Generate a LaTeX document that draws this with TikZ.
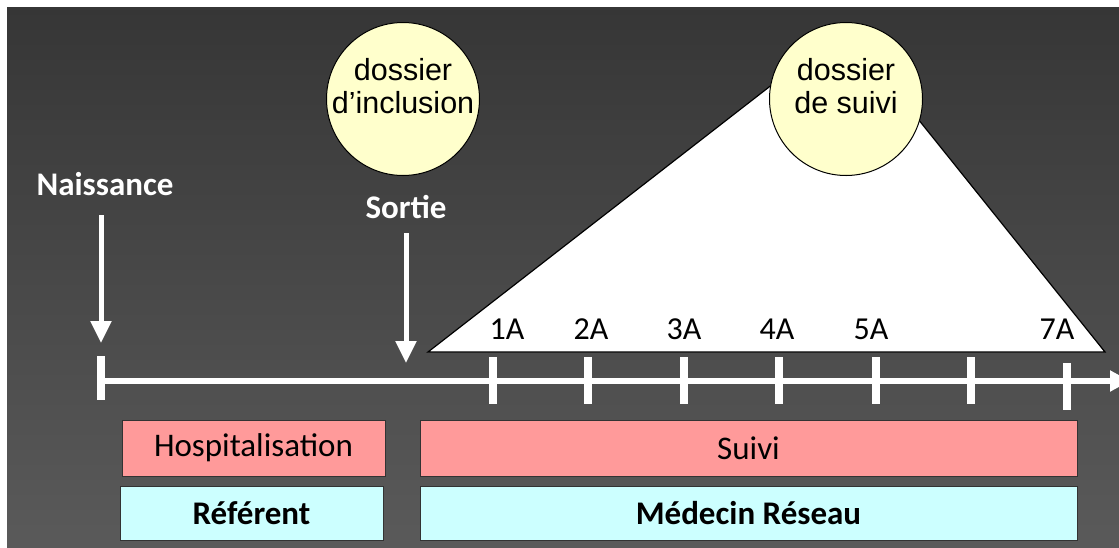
\documentclass[tikz,border=0pt]{standalone}
\usepackage{fontspec}
\setmainfont{Carlito}
\newfontfamily\arialf{Liberation Sans}
\usetikzlibrary{arrows.meta}
\definecolor{bgtop}{HTML}{363636}
\definecolor{bgbot}{HTML}{5A5A5A}
\definecolor{pinkbox}{HTML}{FF9A9A}
\definecolor{cyanbox}{HTML}{CCFFFF}
\definecolor{circfill}{HTML}{FFFFCC}
\tikzset{
  x=1pt,y=-1pt,
  lbl/.style={text=white,font=\fontsize{33}{34}\selectfont\bfseries,inner sep=0pt},
  downarrow/.style={draw=white,line width=5pt,-{Triangle[width=20pt,length=22pt]}},
  tickbar/.style={draw=white,line width=8pt},
  yearlbl/.style={font=\fontsize{32}{33}\selectfont,inner sep=0pt,text=black},
  bandbox/.style={draw=black!80,line width=1pt,minimum height=56pt,inner sep=0pt,font=\fontsize{33}{34}\selectfont},
  docircle/.style={circle,draw=black,line width=1pt,fill=circfill,minimum size=153pt,inner sep=0pt},
  circtext/.style={align=center,inner sep=0pt,font=\arialf\fontsize{30.5}{33}\selectfont},
}
\begin{document}
\begin{tikzpicture}
\fill[white] (0,0) rectangle (1119,547);
\useasboundingbox (0,0) rectangle (1119,547);
\clip (0,0) rectangle (1119,547);
\shade[top color=bgtop,bottom color=bgbot] (7,7) rectangle (1119,547);

% triangle
\coordinate (tl) at (428,352);
\coordinate (tr) at (1105,352);
\coordinate (ta) at (845,28);
\filldraw[fill=white,draw=black,line width=1.2pt] (tl) -- (ta) -- (tr) -- cycle;

% circles
\node[docircle] (incl) at (403,99) {};
\node[circtext] (incltxt) at ([yshift=13pt]incl.center) {dossier\\d’inclusion};
\node[docircle] (suivic) at (846,99) {};
\node[circtext] (suivitxt) at ([yshift=13pt]suivic.center) {dossier\\de suivi};

% labels and arrows
\node[lbl] (nais) at (105,184) {Naissance};
\node[lbl] (sort) at (406,207) {Sortie};
\coordinate (naisA) at (101,215);
\coordinate (naisB) at (101,343);
\coordinate (sortA) at (406,233);
\coordinate (sortB) at (406,363);
\draw[downarrow] (naisA) -- (naisB);
\draw[downarrow] (sortA) -- (sortB);

% axis
\coordinate (ax0) at (101,381);
\coordinate (ax1) at (1130,381);
\draw[draw=white,line width=6pt,-{Triangle[width=20pt,length=20pt]}] (ax0) -- (ax1);
\coordinate (s0) at (101,356);
\coordinate (s1) at (101,400);
\draw[tickbar] (s0) -- (s1);
\foreach \x/\n in {493/1,588/2,684/3,779/4,876/5,971/6}{
  \coordinate (t\n a) at (\x,357);
  \coordinate (t\n b) at (\x,404);
  \draw[tickbar] (t\n a) -- (t\n b);
}
\coordinate (t7a) at (1067,363);
\coordinate (t7b) at (1067,410);
\draw[tickbar] (t7a) -- (t7b);

% year labels
\foreach \x/\t in {507/1A,591/2A,684/3A,777/4A,871/5A,1057/7A}{
  \node[yearlbl] (y\t) at (\x,329) {\t};
}

% boxes
\node[bandbox,fill=pinkbox,minimum width=263pt] (hosp) at (253.5,448) {Hospitalisation};
\node[bandbox,fill=pinkbox,minimum width=657pt] (suivi) at (748.5,448) {Suivi};
\node[bandbox,fill=cyanbox,minimum width=263pt,minimum height=54pt,font=\fontsize{33}{34}\selectfont\bfseries] (ref) at (251.5,513) {Référent};
\node[bandbox,fill=cyanbox,minimum width=657pt,minimum height=54pt,font=\fontsize{33}{34}\selectfont\bfseries] (med) at (748.5,513) {Médecin Réseau};
\end{tikzpicture}
\end{document}
